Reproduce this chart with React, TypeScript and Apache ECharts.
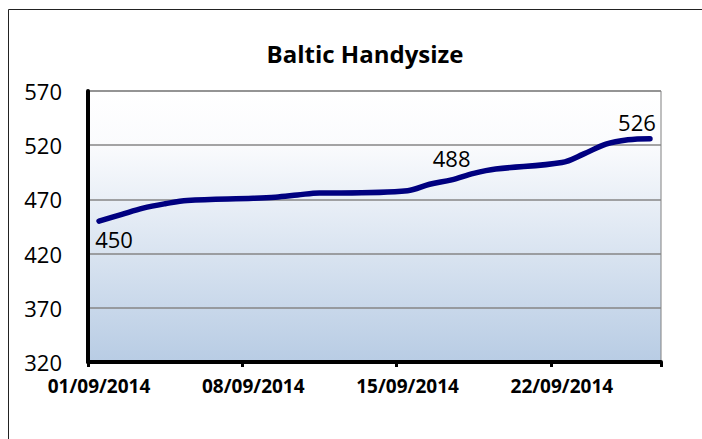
import React, { useEffect, useRef } from "react";
import * as echarts from "echarts";

const chartTitle = "Baltic Handysize";
const tradingDates = [
  "01/09/2014", "02/09/2014", "03/09/2014", "04/09/2014", "05/09/2014",
  "08/09/2014", "09/09/2014", "10/09/2014", "11/09/2014", "12/09/2014",
  "15/09/2014", "16/09/2014", "17/09/2014", "18/09/2014", "19/09/2014",
  "22/09/2014", "23/09/2014", "24/09/2014", "25/09/2014", "26/09/2014",
];
const values = [
  450, 456, 462, 466, 469,
  471, 472, 474, 476, 476,
  478, 484, 488, 494, 498,
  504, 512, 521, 525, 526,
];
const labelledDates = ["01/09/2014", "17/09/2014", "26/09/2014"];
const yMin = 320;
const yMax = 570;
const yStep = 50;
const dayCount = 26;

const allDays: string[] = Array.from(
  { length: dayCount },
  (_, i) => `${String(i + 1).padStart(2, "0")}/09/2014`
);

const labelStyle: Record<string, any> = {
  "01/09/2014": { position: "bottom", distance: 6, offset: [15, 0] },
  "17/09/2014": { position: "top", distance: 10, offset: [0, 0] },
  "26/09/2014": { position: "top", distance: 5, offset: [-13, 0] },
};

export default function App() {
  const ref = useRef<HTMLDivElement>(null);
  useEffect(() => {
    if (!ref.current) return;
    const chart = echarts.init(ref.current, null, { renderer: "svg" });
    const seriesData = allDays.map((d) => {
      const i = tradingDates.indexOf(d);
      if (i < 0) return null;
      if (labelledDates.includes(d)) {
        return {
          value: values[i],
          label: {
            show: true,
            color: "#000",
            fontFamily: "Open Sans",
            fontSize: 22,
            ...labelStyle[d],
          },
        };
      }
      return values[i];
    });
    chart.setOption({
      animation: false,
      backgroundColor: "#fff",
      title: {
        text: chartTitle,
        left: 360,
        top: 36,
        textAlign: "center",
        textStyle: {
          fontFamily: "Open Sans",
          fontWeight: "bold",
          fontSize: 24,
          color: "#000",
        },
      },
      graphic: [
        {
          type: "rect",
          shape: { x: 8.5, y: 9.5, width: 720, height: 460 },
          style: { fill: "none", stroke: "#222", lineWidth: 1 },
          silent: true,
          z: -1,
        },
      ],
      grid: {
        left: 88,
        right: 41,
        top: 91,
        bottom: 77,
        show: true,
        borderColor: "#808080",
        borderWidth: 1,
        backgroundColor: {
          type: "linear",
          x: 0,
          y: 0,
          x2: 0,
          y2: 1,
          colorStops: [
            { offset: 0, color: "#ffffff" },
            { offset: 0.2, color: "#fafbfd" },
            { offset: 1, color: "#b8cce4" },
          ],
        },
      },
      xAxis: {
        type: "category",
        data: allDays,
        boundaryGap: true,
        axisLine: { show: true, lineStyle: { color: "#000", width: 4 } },
        axisTick: {
          show: true,
          length: 5,
          interval: (idx: number) => idx % 7 === 0,
          lineStyle: { color: "#000", width: 3 },
        },
        axisLabel: {
          interval: (idx: number) => idx % 7 === 0,
          fontFamily: "Open Sans",
          fontWeight: "bold",
          fontSize: 19,
          color: "#000",
          margin: 14,
        },
        splitLine: { show: false },
      },
      yAxis: {
        type: "value",
        min: yMin,
        max: yMax,
        interval: yStep,
        axisLine: { show: true, onZero: false, lineStyle: { color: "#000", width: 4 } },
        axisTick: { show: false },
        axisLabel: {
          fontFamily: "Open Sans",
          fontSize: 22,
          color: "#000",
          margin: 26,
        },
        splitLine: { show: true, lineStyle: { color: "#868686", width: 1.5 } },
      },
      series: [
        {
          type: "line",
          data: seriesData,
          connectNulls: true,
          smooth: 0.35,
          symbol: "circle",
          symbolSize: 1,
          showAllSymbol: true,
          itemStyle: { color: "#000080" },
          lineStyle: { color: "#000080", width: 5.5, cap: "round", join: "round" },
          label: { show: false },
          z: 3,
        },
      ],
    });
    return () => chart.dispose();
  }, []);
  return (
    <div
      ref={ref}
      style={{ position: "fixed", left: 0, top: 0, width: 702, height: 439 }}
    />
  );
}
